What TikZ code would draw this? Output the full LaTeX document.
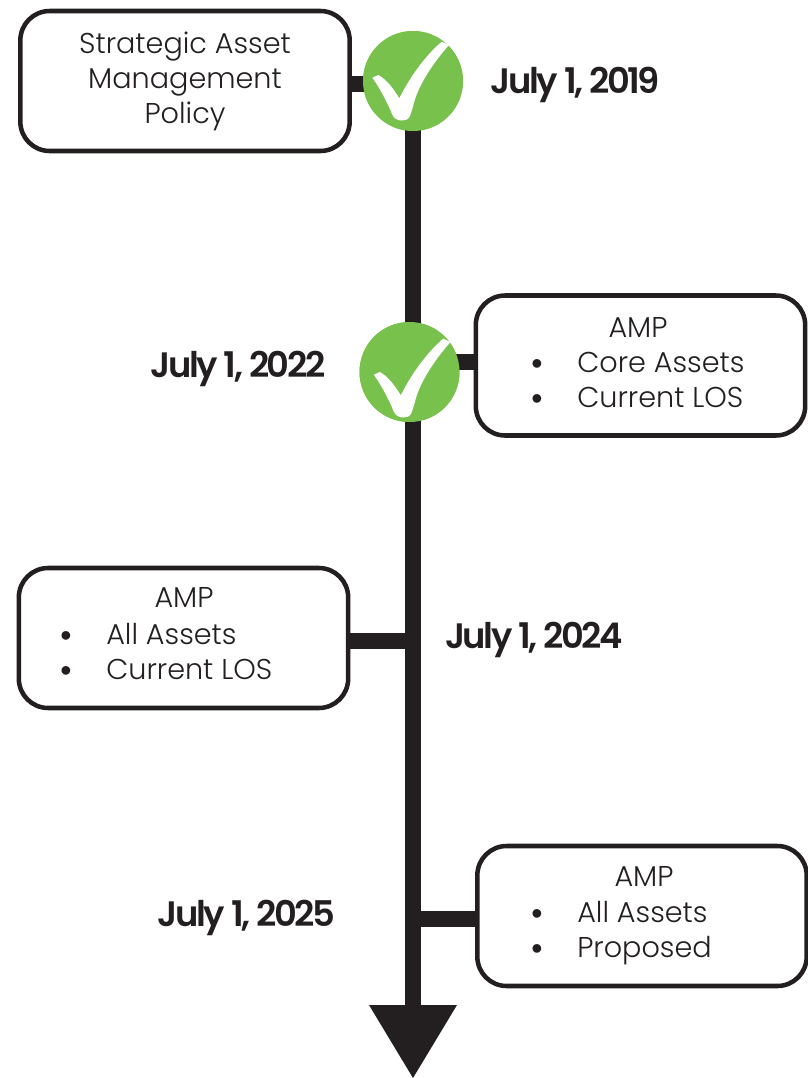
\documentclass[tikz,border=0pt]{standalone}
\usepackage{fontspec}
\setmainfont{Poppins Light}
\newfontfamily\datefont[LetterSpace=-7]{Poppins SemiBold}
\newfontfamily\dotfont{Liberation Sans}
\definecolor{ink}{HTML}{231F20}
\definecolor{okgreen}{HTML}{78C14C}
\newcommand{\bul}{{\dotfont\fontsize{24}{24}\selectfont •}}
\tikzset{
  x=0.75pt,y=-0.75pt,
  stagebox/.style={draw=ink,line width=3.4pt,rounded corners=22pt,fill=white,minimum width=247pt,minimum height=105pt,inner sep=0pt},
  stem/.style={draw=ink,line width=11.5pt},
  body/.style={text=ink,font=\fontsize{21.5}{24}\selectfont,inner sep=0pt,anchor=base},
  bodyl/.style={body,anchor=base west},
  datelabel/.style={text=ink,font=\datefont\fontsize{26.5}{30}\selectfont,inner sep=0pt,anchor=base},
  okcircle/.style={circle,fill=okgreen,minimum size=75pt,inner sep=0pt},
  pics/tick/.style={code={
    \fill[white] (-40.7,-3.3) -- (-34.7,-6) .. controls (-27,-2) and (-20,7) .. (-13.7,17.3)
      .. controls (-3,-4) and (12,-25) .. (28.7,-39.3) -- (36,-36)
      .. controls (20,-18) and (4,6) .. (0,25.7) -- (-3,35)
      .. controls (-5,39) and (-8,39.5) .. (-11.3,39.5)
      .. controls (-15,39.5) and (-19,38) .. (-21,33)
      .. controls (-24,25) and (-33,7) .. (-40.7,-3.3) -- cycle;
  }}
}
\begin{document}
\begin{tikzpicture}
\useasboundingbox (0,0) rectangle (807,1078);
% spine
\coordinate (head) at (413,1006);
\coordinate (tipL) at (369,1005);
\coordinate (tipR) at (457,1005);
\coordinate (tip) at (413,1078);
\node[okcircle] (c1) at (413,81) {};
\node[okcircle] (c2) at (409.5,372) {};
\draw[stem] (c1.center) -- (head);
\fill[ink] (tipL) -- (tipR) -- (tip) -- cycle;
% boxes
\coordinate (j3) at (413,641);
\coordinate (j4) at (413,919);
\coordinate (a1) at (355,84);
\node[stagebox] (b1) at (185,81) {};
\node[stagebox] (b2) at (640.5,365.5) {};
\node[stagebox] (b3) at (183.5,638) {};
\node[stagebox] (b4) at (642,916) {};
\draw[stem] (b1.east |- a1) -- (a1 -| c1.center);
\draw[stem] (b2.west |- 0,362) -- (c2.center |- 0,362);
\draw[stem] (b3.east |- j3) -- (j3);
\draw[stem] (b4.west |- j4) -- (j4);
\node[okcircle] at (c1.center) {};
\node[okcircle] at (c2.center) {};
\pic at (c1.center) {tick};
\pic at (414.5,378) {tick};
% box text
\node[body] (t11) at (185,53) {Strategic Asset};
\node[body] (t12) at (185,88) {Management};
\node[body] (t13) at (185,123) {Policy};
\node[body] (t21) at (638,337) {AMP};
\node[body] (p22) at (537,374) {\bul};
\node[bodyl] (t22) at (577,372) {Core Assets};
\node[body] (p23) at (537,409) {\bul};
\node[bodyl] (t23) at (577,407.5) {Current LOS};
\node[body] (t31) at (184,607) {AMP};
\node[body] (p32) at (66,646) {\bul};
\node[bodyl] (t32) at (106,644) {All Assets};
\node[body] (p33) at (66,681) {\bul};
\node[bodyl] (t33) at (106,679) {Current LOS};
\node[body] (t41) at (644,886.5) {AMP};
\node[body] (p42) at (537,924) {\bul};
\node[bodyl] (t42) at (577,922) {All Assets};
\node[body] (p43) at (537,959) {\bul};
\node[bodyl] (t43) at (577,957) {Proposed};
% dates
\node[datelabel] (d1) at (575.5,93) {July 1, 2019};
\node[datelabel] (d2) at (238,377) {July 1, 2022};
\node[datelabel] (d3) at (534,648) {July 1, 2024};
\node[datelabel] (d4) at (246.5,926) {July 1, 2025};
\end{tikzpicture}
\end{document}
